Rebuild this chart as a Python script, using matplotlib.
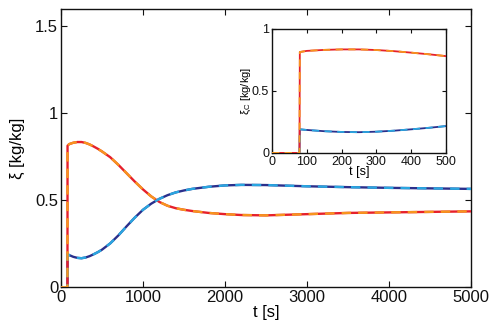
import matplotlib
matplotlib.use("Agg")
import matplotlib.pyplot as plt

plt.rcParams['font.family'] = ['Liberation Sans', 'DejaVu Sans']
plt.rcParams['mathtext.fontset'] = 'custom'
plt.rcParams['mathtext.rm'] = 'Liberation Sans'
plt.rcParams['mathtext.it'] = 'Liberation Sans'

# Time grid [s]
t = [0, 79, 80, 100, 150, 200, 250, 300, 350, 400, 450, 500, 600, 700, 800,
     900, 1000, 1100, 1200, 1300, 1400, 1500, 1600, 1800, 2000, 2200, 2500,
     3000, 3500, 4000, 4500, 5000]

# Mass fraction, component 1 [kg/kg]
xi_a = [0, 0, 0.190, 0.185, 0.175, 0.169, 0.167, 0.171, 0.179, 0.190, 0.202,
        0.216, 0.252, 0.298, 0.350, 0.400, 0.445, 0.480, 0.508, 0.529, 0.545,
        0.556, 0.565, 0.577, 0.585, 0.588, 0.587, 0.580, 0.575, 0.571, 0.568,
        0.565]

# Mass fraction, component 2 [kg/kg]
xi_b = [0, 0, 0.813, 0.822, 0.830, 0.834, 0.834, 0.829, 0.820, 0.808, 0.795,
        0.780, 0.747, 0.703, 0.655, 0.607, 0.562, 0.522, 0.490, 0.468, 0.454,
        0.445, 0.438, 0.427, 0.420, 0.415, 0.413, 0.420, 0.427, 0.430, 0.433,
        0.436]

main_xticks = [0, 1000, 2000, 3000, 4000, 5000]
main_yticks = [0, 0.5, 1, 1.5]
main_yticklabels = ['0', '0.5', '1', '1.5']
inset_xticks = [0, 100, 200, 300, 400, 500]
inset_yticks = [0, 0.5, 1]
inset_yticklabels = ['0', '0.5', '1']

NAVY = '#2a2f8c'
CYAN = '#2aa6e0'
RED = '#e6202b'
ORANGE = '#f7951e'


def draw_curves(ax, lw):
    ax.plot(t, xi_a, color=NAVY, lw=lw, solid_joinstyle='round', zorder=3)
    ax.plot(t, xi_a, color=CYAN, lw=lw, dashes=(4, 3), zorder=4)
    ax.plot(t, xi_b, color=RED, lw=lw, solid_joinstyle='round', zorder=3)
    ax.plot(t, xi_b, color=ORANGE, lw=lw, dashes=(4, 3), zorder=4)


def style_axes(ax, size, ticklen):
    ax.tick_params(direction='in', top=True, right=True, length=ticklen,
                   width=0.8, labelsize=size, colors='#111111', pad=2)
    for s in ax.spines.values():
        s.set_linewidth(1.0)
        s.set_color('#111111')


fig = plt.figure(figsize=(4.91, 3.31), dpi=100)

ax = fig.add_axes([0.1242, 0.132, 0.835, 0.842])
draw_curves(ax, 1.7)
ax.set_xlim(0, 5000)
ax.set_ylim(0, 1.6)
ax.set_xticks(main_xticks)
ax.set_yticks(main_yticks)
ax.set_yticklabels(main_yticklabels)
style_axes(ax, 12, 4)
ax.set_xlabel('t [s]', fontsize=12, labelpad=0)
ax.set_ylabel('ξ [kg/kg]', fontsize=12, labelpad=7)

ins = fig.add_axes([0.554, 0.538, 0.354, 0.375])
ins.set_facecolor('white')
draw_curves(ins, 1.3)
ins.set_xlim(0, 500)
ins.set_ylim(0, 1)
ins.set_xticks(inset_xticks)
ins.set_yticks(inset_yticks)
ins.set_yticklabels(inset_yticklabels)
style_axes(ins, 9, 3)
ins.set_xlabel('t [s]', fontsize=9, labelpad=-1)
ins.set_ylabel(r'ξ$_\mathregular{C}$ [kg/kg]', fontsize=8, labelpad=-1)

fig.savefig('out.png', dpi=100)
